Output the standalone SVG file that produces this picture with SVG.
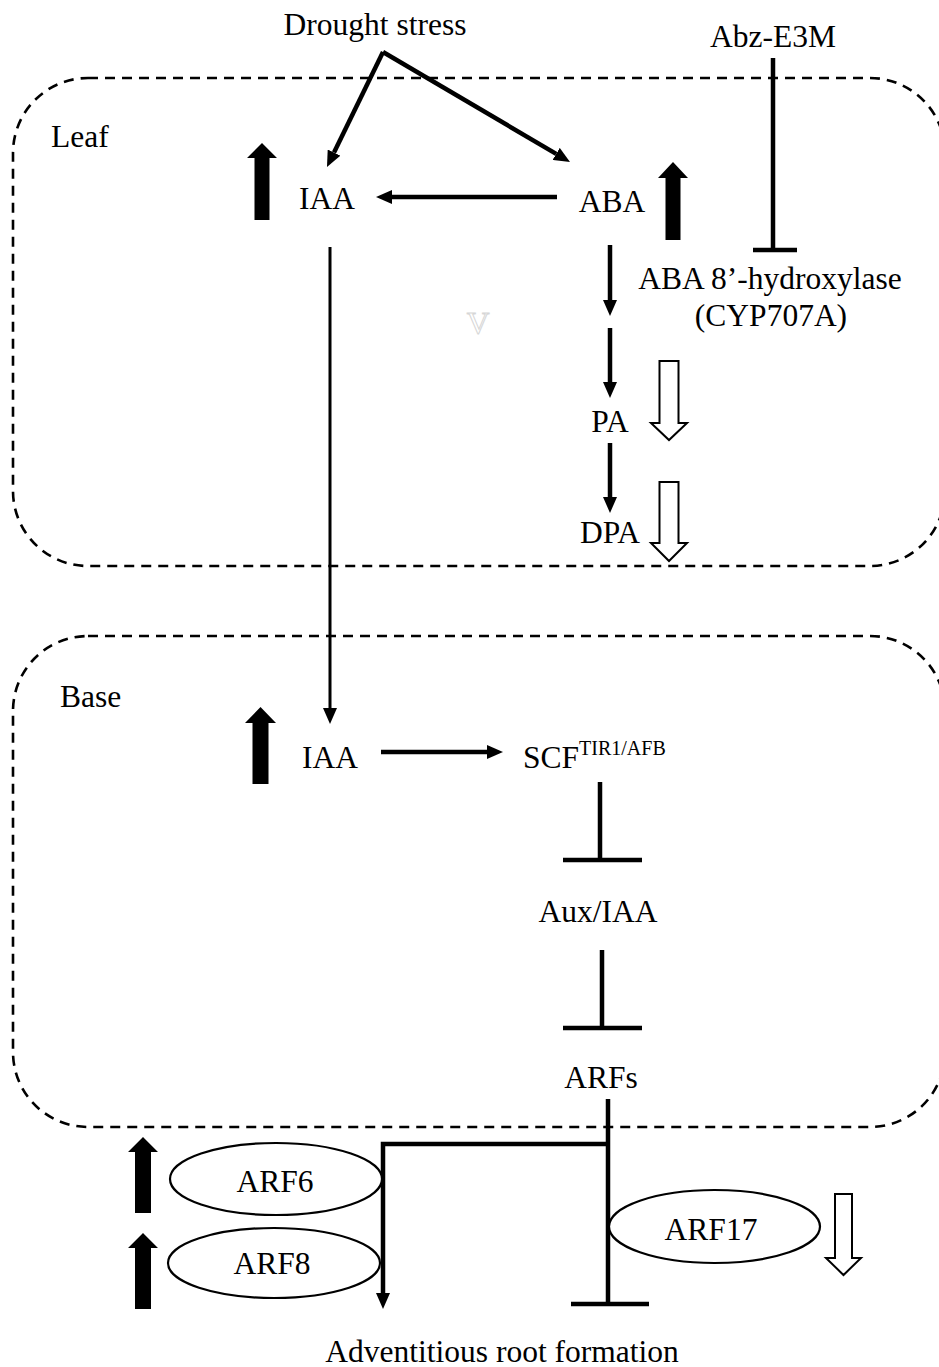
<svg xmlns="http://www.w3.org/2000/svg" width="939" height="1367" viewBox="0 0 939 1367">
<style>
  text { font-family: "Liberation Serif", "Times New Roman", serif; font-size: 31.5px; fill: #000; }
  .mid { text-anchor: middle; }
  .region { fill: none; stroke: #000; stroke-width: 2.6; stroke-dasharray: 10 7; }
  .ln { fill: none; stroke: #000; stroke-width: 4.5; }
  .thin { fill: none; stroke: #000; stroke-width: 3; }
  .up { fill: #000; stroke: none; }
  .hollow { fill: #fff; stroke: #000; stroke-width: 2; stroke-linejoin: miter; }
  .ell { fill: #fff; stroke: #000; stroke-width: 2.2; }
</style>
<defs>
  <marker id="ah" viewBox="0 0 16 14" refX="0" refY="7" markerWidth="16" markerHeight="14" markerUnits="userSpaceOnUse" orient="auto">
    <path d="M0,0 L16,7 L0,14 z" fill="#000"/>
  </marker>
</defs>
<rect width="939" height="1367" fill="#fff"/>

<g id="region-leaf">
  <rect class="region" x="13" y="78" width="932" height="488" rx="75" ry="75"/>
  <text x="51" y="147">Leaf</text>
</g>
<g id="region-base">
  <rect class="region" x="13" y="636" width="932" height="491" rx="75" ry="75"/>
  <text x="60" y="707">Base</text>
</g>

<g id="connectors">
  <path class="ln" d="M383,52 L334,152.6" marker-end="url(#ah)"/>
  <path class="ln" d="M383,52 L556.2,153.9" marker-end="url(#ah)"/>
  <path class="ln" d="M557,197 L392,197" marker-end="url(#ah)"/>
  <path class="ln" d="M610,245 L610,300" marker-end="url(#ah)"/>
  <path class="ln" d="M610,328 L610,382" marker-end="url(#ah)"/>
  <path class="ln" d="M610,443 L610,497" marker-end="url(#ah)"/>
  <path class="ln" d="M773,58 L773,250 M753,250 L797,250"/>
  <path class="thin" d="M330,247 L330,708" marker-end="url(#ah)"/>
  <path class="ln" d="M381,752 L487,752" marker-end="url(#ah)"/>
  <path class="ln" d="M600,782 L600,860 M563,860 L642,860"/>
  <path class="ln" d="M602,950 L602,1028 M563,1028 L642,1028"/>
  <path class="ln" d="M608,1099 L608,1304 M571,1304 L649,1304"/>
  <path class="ln" d="M608,1144 L383,1144 L383,1293" marker-end="url(#ah)"/>
</g>

<g id="drought-stress"><text class="mid" x="375" y="35">Drought stress</text></g>
<g id="abz-e3m"><text class="mid" x="773" y="47">Abz-E3M</text></g>
<g id="iaa-leaf">
  <polygon class="up" points="262,143 277,158 269.5,158 269.5,220 254.5,220 254.5,158 247,158"/>
  <text class="mid" x="327" y="209">IAA</text>
</g>
<g id="aba">
  <text class="mid" x="612" y="212">ABA</text>
  <polygon class="up" points="673,162 688,178 680.5,178 680.5,240 665.5,240 665.5,178 658,178"/>
</g>
<g id="aba-hydroxylase">
  <text class="mid" x="770" y="289">ABA 8’-hydroxylase</text>
  <text class="mid" x="771" y="326">(CYP707A)</text>
</g>
<g id="artifact-v"><text class="mid" x="478" y="334" style="fill:#fff;stroke:#d6d6d6;stroke-width:1">V</text></g>
<g id="pa">
  <text class="mid" x="610" y="432">PA</text>
  <polygon class="hollow" points="659.5,361 678.5,361 678.5,423 687,423 669,440 651,423 659.5,423"/>
</g>
<g id="dpa">
  <text class="mid" x="610" y="543">DPA</text>
  <polygon class="hollow" points="659.5,482 678.5,482 678.5,543 687,543 669,561 651,543 659.5,543"/>
</g>
<g id="iaa-base">
  <polygon class="up" points="260.5,707 276,723 268.5,723 268.5,784 252.5,784 252.5,723 245,723"/>
  <text class="mid" x="330" y="768">IAA</text>
</g>
<g id="scf">
  <text x="523" y="768">SCF<tspan dy="-13" style="font-size:20px">TIR1/AFB</tspan></text>
</g>
<g id="aux-iaa"><text class="mid" x="598" y="922">Aux/IAA</text></g>
<g id="arfs"><text class="mid" x="601" y="1088">ARFs</text></g>
<g id="arf6">
  <polygon class="up" points="143,1137 158,1152 151,1152 151,1213 135,1213 135,1152 128,1152"/>
  <ellipse class="ell" cx="276" cy="1179" rx="106" ry="36"/>
  <text class="mid" x="275" y="1192">ARF6</text>
</g>
<g id="arf8">
  <polygon class="up" points="143,1233 158,1248 151,1248 151,1309 135,1309 135,1248 128,1248"/>
  <ellipse class="ell" cx="274" cy="1263" rx="106" ry="35"/>
  <text class="mid" x="272" y="1274">ARF8</text>
</g>
<g id="arf17">
  <ellipse class="ell" cx="714.5" cy="1226.5" rx="105.5" ry="36.5"/>
  <text class="mid" x="711" y="1240">ARF17</text>
  <polygon class="hollow" points="835,1194 852,1194 852,1258 861,1258 843.5,1275 826,1258 835,1258"/>
</g>
<g id="adventitious-root"><text class="mid" x="502" y="1362">Adventitious root formation</text></g>
</svg>
